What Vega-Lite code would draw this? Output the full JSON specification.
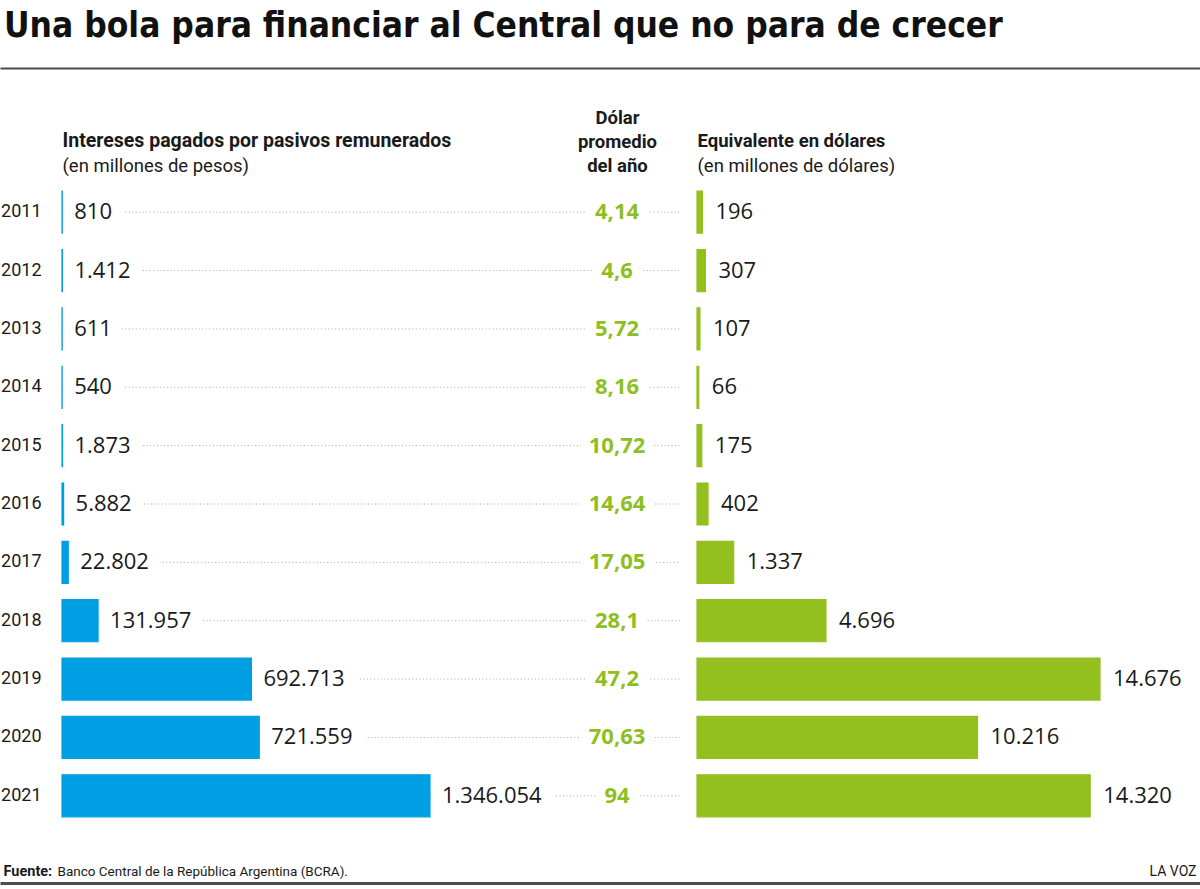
{
  "$schema": "https://vega.github.io/schema/vega-lite/v6.json",
  "autosize": "none",
  "padding": {"top": 68, "left": 0, "right": 0, "bottom": 0},
  "width": 1200,
  "height": 821,
  "background": "white",
  "title": {
    "text": "Una bola para financiar al Central que no para de crecer",
    "anchor": "start",
    "frame": "group",
    "font": "DejaVu Sans Condensed, Roboto",
    "fontSize": 35,
    "fontWeight": "bold",
    "color": "#111111",
    "dx": 4,
    "offset": 24
  },
  "config": {
    "locale": {"number": {"decimal": ",", "thousands": ".", "grouping": [3], "currency": ["$", ""]}},
    "view": {"stroke": null},
    "axis": {
      "labels": false, "ticks": false, "domain": false, "grid": false,
      "titleFont": "Roboto",
      "titleFontSize": 18.5, "titleColor": "#1a1a1a", "titleAngle": 0
    }
  },
  "data": {
    "values": [
      {"anio": "2011", "pesos": 810, "dolar": 4.14, "usd": 196},
      {"anio": "2012", "pesos": 1412, "dolar": 4.6, "usd": 307},
      {"anio": "2013", "pesos": 611, "dolar": 5.72, "usd": 107},
      {"anio": "2014", "pesos": 540, "dolar": 8.16, "usd": 66},
      {"anio": "2015", "pesos": 1873, "dolar": 10.72, "usd": 175},
      {"anio": "2016", "pesos": 5882, "dolar": 14.64, "usd": 402},
      {"anio": "2017", "pesos": 22802, "dolar": 17.05, "usd": 1337},
      {"anio": "2018", "pesos": 131957, "dolar": 28.1, "usd": 4696},
      {"anio": "2019", "pesos": 692713, "dolar": 47.2, "usd": 14676},
      {"anio": "2020", "pesos": 721559, "dolar": 70.63, "usd": 10216},
      {"anio": "2021", "pesos": 1346054, "dolar": 94, "usd": 14320}
    ]
  },
  "encoding": {
    "y": {
      "field": "anio", "type": "ordinal",
      "scale": {"range": [115, 757], "paddingInner": 0.28, "paddingOuter": 0.14},
      "axis": {
        "orient": "left", "offset": -42, "labels": true, "labelPadding": 1,
        "labelFont": "Roboto", "labelFontSize": 18, "labelColor": "#1a1a1a", "title": null
      }
    }
  },
  "resolve": {"scale": {"x": "independent"}, "axis": {"x": "independent"}},
  "layer": [
    {
      "mark": {"type": "rule", "stroke": "#a8a8a8", "strokeWidth": 1, "strokeDash": [1, 2.5]},
      "encoding": {
        "x": {
          "field": "pesos", "type": "quantitative",
          "scale": {"domain": [0, 1346054], "range": [62, 430], "nice": false},
          "axis": {
            "orient": "bottom", "title": "Banco Central de la República Argentina (BCRA).",
            "titleX": 57, "titleY": -18, "titleAlign": "left", "titleBaseline": "middle",
            "titleFontSize": 13.5, "titleFontWeight": "normal"
          }
        },
        "x2": {"datum": 2260000}
      }
    },
    {
      "mark": {"type": "text", "align": "left", "baseline": "middle", "dx": 12,
               "font": "Open Sans", "fontSize": 22,
               "fill": "white", "stroke": "white", "strokeWidth": 28, "strokeJoin": "round"},
      "encoding": {
        "x": {
          "field": "pesos", "type": "quantitative",
          "scale": {"domain": [0, 1346054], "range": [62, 430], "nice": false},
          "axis": {
            "orient": "bottom", "title": "Fuente:",
            "titleX": 3, "titleY": -18, "titleAlign": "left", "titleBaseline": "middle",
            "titleFontSize": 14.5, "titleFontWeight": "bold"
          }
        },
        "text": {"field": "pesos", "type": "quantitative", "format": ",d"}
      }
    },
    {
      "mark": {"type": "bar", "color": "#009fe3", "stroke": "#009fe3", "strokeWidth": 1.2},
      "encoding": {
        "x": {
          "field": "pesos", "type": "quantitative",
          "scale": {"domain": [0, 1346054], "range": [62, 430], "nice": false},
          "axis": {
            "orient": "top", "title": "Intereses pagados por pasivos remunerados",
            "titleX": 62, "titleY": 72, "titleAlign": "left", "titleBaseline": "middle",
            "titleFontSize": 19.5, "titleFontWeight": "bold"
          }
        }
      }
    },
    {
      "mark": {"type": "text", "align": "left", "baseline": "middle", "dx": 12,
               "font": "Open Sans", "fontSize": 22, "fill": "#1a1a1a"},
      "encoding": {
        "x": {
          "field": "pesos", "type": "quantitative",
          "scale": {"domain": [0, 1346054], "range": [62, 430], "nice": false},
          "axis": {
            "orient": "top", "title": "(en millones de pesos)",
            "titleX": 62, "titleY": 97, "titleAlign": "left", "titleBaseline": "middle",
            "titleFontWeight": "normal"
          }
        },
        "text": {"field": "pesos", "type": "quantitative", "format": ",d"}
      }
    },
    {
      "mark": {"type": "text", "align": "center", "baseline": "middle",
               "font": "Open Sans", "fontSize": 22, "fontWeight": "bold",
               "fill": "white", "stroke": "white", "strokeWidth": 20, "strokeJoin": "round"},
      "encoding": {
        "x": {
          "datum": "Dólar promedio del año", "type": "nominal",
          "scale": {"type": "point", "domain": ["Dólar promedio del año"], "range": [0, 1200], "align": 0.5142},
          "axis": {
            "orient": "top", "domain": true, "domainColor": "#4d4d4d", "domainWidth": 2,
            "title": ["Dólar", "promedio", "del año"],
            "titleX": 617, "titleY": 49, "titleAlign": "center", "titleBaseline": "middle",
            "titleLineHeight": 24, "titleFontWeight": "bold"
          }
        },
        "text": {"field": "dolar", "type": "quantitative", "format": ",.2~f"}
      }
    },
    {
      "mark": {"type": "text", "align": "center", "baseline": "middle",
               "font": "Open Sans", "fontSize": 22, "fontWeight": "bold", "fill": "#8dbf22"},
      "encoding": {
        "x": {
          "datum": "Dólar promedio del año", "type": "nominal",
          "scale": {"type": "point", "domain": ["Dólar promedio del año"], "range": [0, 1200], "align": 0.5142},
          "axis": {
            "orient": "bottom", "offset": -6, "domain": true, "domainColor": "#4d4d4d", "domainWidth": 3,
            "title": "LA VOZ",
            "titleX": 1196, "titleY": -12, "titleAlign": "right", "titleBaseline": "middle",
            "titleFontSize": 14, "titleFontWeight": "normal"
          }
        },
        "text": {"field": "dolar", "type": "quantitative", "format": ",.2~f"}
      }
    },
    {
      "mark": {"type": "bar", "color": "#93c01f", "stroke": "#93c01f", "strokeWidth": 1.2},
      "encoding": {
        "x": {
          "field": "usd", "type": "quantitative",
          "scale": {"domain": [0, 14676], "range": [697, 1100], "nice": false},
          "axis": {
            "orient": "top", "title": "Equivalente en dólares",
            "titleX": 697, "titleY": 72, "titleAlign": "left", "titleBaseline": "middle",
            "titleFontWeight": "bold"
          }
        }
      }
    },
    {
      "mark": {"type": "text", "align": "left", "baseline": "middle", "dx": 13,
               "font": "Open Sans", "fontSize": 22, "fill": "#1a1a1a"},
      "encoding": {
        "x": {
          "field": "usd", "type": "quantitative",
          "scale": {"domain": [0, 14676], "range": [697, 1100], "nice": false},
          "axis": {
            "orient": "top", "title": "(en millones de dólares)",
            "titleX": 697, "titleY": 97, "titleAlign": "left", "titleBaseline": "middle",
            "titleFontWeight": "normal"
          }
        },
        "text": {"field": "usd", "type": "quantitative", "format": ",d"}
      }
    }
  ]
}
